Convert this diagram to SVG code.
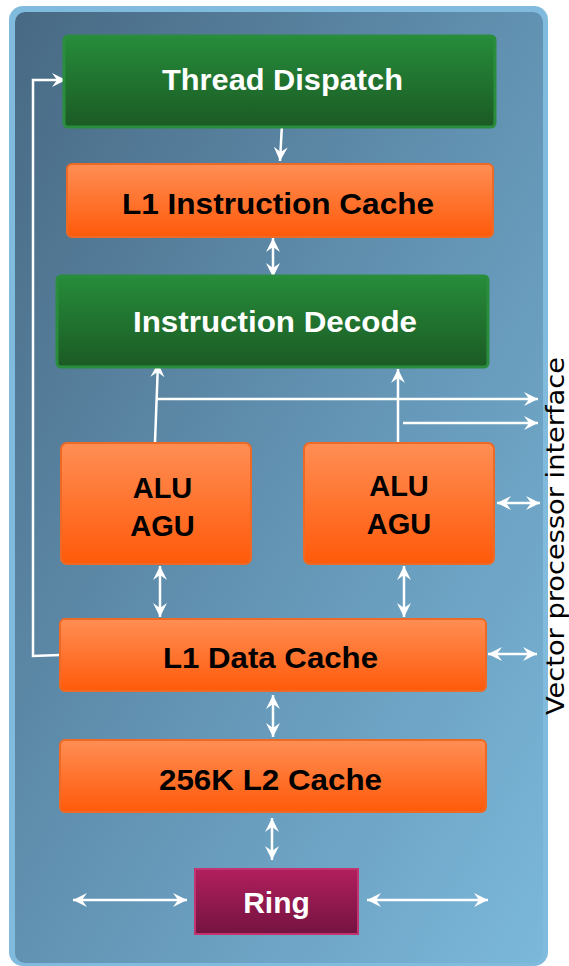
<svg xmlns="http://www.w3.org/2000/svg" width="569" height="966" viewBox="0 0 569 966">
<style>
.bt{font-family:"Liberation Sans",Arial,sans-serif;font-weight:bold;font-size:30px;text-anchor:middle}
.s{font-size:29px}
.w{fill:#ffffff}
.k{fill:#000000}
.c{fill:none;stroke:#ffffff;stroke-width:2.5}
.e{marker-end:url(#ah)}
.d{marker-start:url(#ah);marker-end:url(#ah)}
.g{fill:url(#gg);stroke:#2a8d3d;stroke-width:3}
.o{fill:url(#og);stroke:#ec6a26;stroke-width:2}
.r{fill:url(#rg);stroke:#c2346f;stroke-width:2}
</style>
<defs>
<linearGradient id="bg" x1="0" y1="0" x2="1" y2="1">
<stop offset="0" stop-color="#486983"/>
<stop offset="0.5" stop-color="#6292b2"/>
<stop offset="1" stop-color="#7bb8da"/>
</linearGradient>
<linearGradient id="gg" x1="0" y1="0" x2="0" y2="1">
<stop offset="0" stop-color="#268c3a"/>
<stop offset="1" stop-color="#1b5a24"/>
</linearGradient>
<linearGradient id="og" x1="0" y1="0" x2="0" y2="1">
<stop offset="0" stop-color="#ff8e54"/>
<stop offset="1" stop-color="#ff5a0a"/>
</linearGradient>
<linearGradient id="rg" x1="0" y1="0" x2="0" y2="1">
<stop offset="0" stop-color="#b11f5d"/>
<stop offset="1" stop-color="#741340"/>
</linearGradient>
<marker id="ah" markerUnits="userSpaceOnUse" markerWidth="16" markerHeight="16" viewBox="0 0 16 16" refX="14" refY="7" orient="auto-start-reverse">
<path d="M0,0 L14,7 L0,14 L5,7 z" fill="#ffffff"/>
</marker>
</defs>
<g id="frame">
<rect x="9" y="6" width="539" height="960" rx="14" fill="#80bbde"/>
<rect x="15" y="12" width="528" height="951" rx="10" fill="url(#bg)"/>
</g>
<g id="connectors">
<line class="c e" x1="282" y1="124" x2="280" y2="161"/>
<line class="c d" x1="273" y1="238" x2="273" y2="277"/>
<line class="c e" x1="155" y1="442" x2="158" y2="363"/>
<line class="c e" x1="157" y1="399" x2="538" y2="399"/>
<line class="c e" x1="398" y1="442" x2="398" y2="369"/>
<line class="c e" x1="403" y1="423" x2="538" y2="423"/>
<line class="c d" x1="497" y1="503" x2="540" y2="503"/>
<polyline class="c e" points="60,655 33,656 33,80 66,80"/>
<line class="c d" x1="160" y1="566" x2="160" y2="617"/>
<line class="c d" x1="404" y1="566" x2="404" y2="617"/>
<line class="c d" x1="488" y1="654" x2="537" y2="654"/>
<line class="c d" x1="273" y1="695" x2="273" y2="737"/>
<line class="c d" x1="272" y1="818" x2="272" y2="860"/>
<line class="c d" x1="73" y1="900" x2="187" y2="900"/>
<line class="c d" x1="367" y1="900" x2="488" y2="900"/>
</g>
<g id="thread-dispatch">
<rect class="g" x="64" y="36" width="431" height="91" rx="4"/>
<text class="bt w" x="282.5" y="90" textLength="241" lengthAdjust="spacingAndGlyphs">Thread Dispatch</text>
</g>
<g id="l1-instruction-cache">
<rect class="o" x="67" y="164" width="426" height="73" rx="5"/>
<text class="bt k" x="278" y="214" textLength="312" lengthAdjust="spacingAndGlyphs">L1 Instruction Cache</text>
</g>
<g id="instruction-decode">
<rect class="g" x="57" y="276" width="431" height="91" rx="4"/>
<text class="bt w" x="275" y="332" textLength="284" lengthAdjust="spacingAndGlyphs">Instruction Decode</text>
</g>
<g id="alu-agu-left">
<rect class="o" x="61" y="443" width="190" height="121" rx="6"/>
<text class="bt s k" x="162.5" y="498">ALU</text>
<text class="bt s k" x="162.5" y="536">AGU</text>
</g>
<g id="alu-agu-right">
<rect class="o" x="304" y="443" width="190" height="121" rx="6"/>
<text class="bt s k" x="399" y="496">ALU</text>
<text class="bt s k" x="399" y="534">AGU</text>
</g>
<g id="l1-data-cache">
<rect class="o" x="60" y="619" width="426" height="72" rx="5"/>
<text class="bt k" x="270.5" y="668" textLength="215" lengthAdjust="spacingAndGlyphs">L1 Data Cache</text>
</g>
<g id="l2-cache">
<rect class="o" x="60" y="740" width="426" height="72" rx="5"/>
<text class="bt k" x="270.5" y="790" textLength="223" lengthAdjust="spacingAndGlyphs">256K L2 Cache</text>
</g>
<g id="ring">
<rect class="r" x="195" y="869" width="163" height="65"/>
<text class="bt w" x="276.5" y="913">Ring</text>
</g>
<g id="vector-label">
<text x="0" y="0" transform="translate(564,536) rotate(-90)" font-family="'DejaVu Sans',Verdana,sans-serif" font-size="24" text-anchor="middle" fill="#000000" textLength="358" lengthAdjust="spacingAndGlyphs">Vector processor interface</text>
</g>
</svg>
